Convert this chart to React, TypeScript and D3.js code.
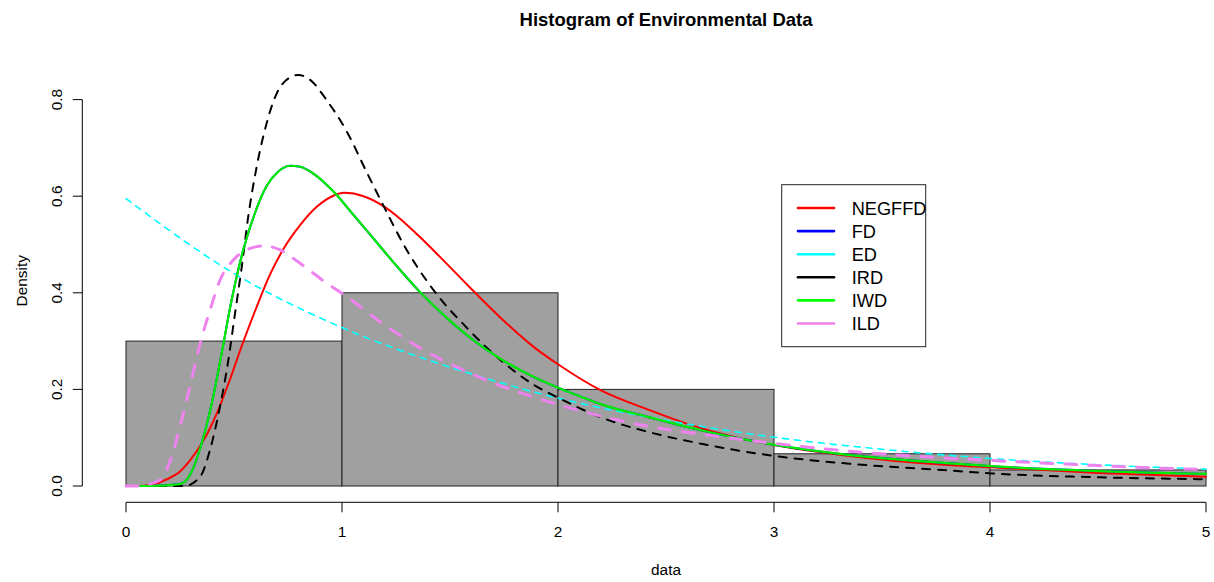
import React from "react";
import * as d3 from "d3";

// ---- Data ----
const binEdges = [0, 1, 2, 3, 4, 5];
const binDensity = [0.3, 0.4, 0.2, 0.0667, 0.0333];

const xTicks = [0, 1, 2, 3, 4, 5];
const yTicks = [0, 0.2, 0.4, 0.6, 0.8];

const negffdPts: [number, number][] = [
  [0, 0], [0.06, 0], [0.11, 0.002], [0.19, 0.014], [0.25, 0.03], [0.3, 0.055], [0.36, 0.095],
  [0.42, 0.15], [0.48, 0.219], [0.54, 0.295], [0.605, 0.371], [0.667, 0.438], [0.728, 0.49],
  [0.806, 0.54], [0.883, 0.578], [0.96, 0.601], [1.01, 0.607], [1.1, 0.6], [1.19, 0.58],
  [1.27, 0.553], [1.35, 0.52], [1.45, 0.476], [1.59, 0.412], [1.73, 0.35], [1.89, 0.287],
  [2.0, 0.252], [2.19, 0.2], [2.43, 0.156], [2.61, 0.127], [2.81, 0.102], [3.0, 0.085],
  [3.2, 0.071], [3.43, 0.058], [3.66, 0.048], [3.82, 0.043], [4.0, 0.039], [4.5, 0.027], [5.0, 0.019],
];

const iwdPts: [number, number][] = [
  [0, 0], [0.1, 0], [0.25, 0.004], [0.3, 0.026], [0.35, 0.088], [0.397, 0.171], [0.443, 0.275],
  [0.489, 0.385], [0.543, 0.489], [0.605, 0.575], [0.651, 0.621], [0.705, 0.651], [0.759, 0.663],
  [0.806, 0.661], [0.86, 0.649], [0.96, 0.61], [1.05, 0.563], [1.15, 0.51], [1.25, 0.457],
  [1.36, 0.402], [1.485, 0.348], [1.608, 0.302], [1.731, 0.264], [1.886, 0.226], [2.009, 0.202],
  [2.117, 0.183], [2.194, 0.17], [2.426, 0.142], [2.657, 0.116], [3.005, 0.085], [3.352, 0.064],
  [3.815, 0.047], [4.008, 0.041], [5.0, 0.025],
];

// FD coincides with IWD in the reference (hidden under the green curve)
const fdPts: [number, number][] = iwdPts;

const edPts: [number, number][] = [
  [0, 0.595], [0.5, 0.44], [1.0, 0.328], [1.5, 0.246], [2.0, 0.182], [2.5, 0.136],
  [3.0, 0.101], [3.5, 0.076], [4.0, 0.057], [4.5, 0.044], [5.0, 0.035],
];

const irdPts: [number, number][] = [
  [0, 0], [0.27, 0], [0.343, 0.019], [0.389, 0.075], [0.435, 0.164], [0.474, 0.261], [0.505, 0.358],
  [0.536, 0.454], [0.566, 0.558], [0.605, 0.661], [0.651, 0.751], [0.698, 0.813], [0.744, 0.841],
  [0.798, 0.851], [0.852, 0.841], [0.929, 0.799], [1.022, 0.734], [1.114, 0.65], [1.207, 0.567],
  [1.269, 0.513], [1.423, 0.406], [1.577, 0.328], [1.731, 0.262], [1.886, 0.21], [2.009, 0.181],
  [2.194, 0.143], [2.426, 0.111], [2.657, 0.088], [3.005, 0.062], [3.352, 0.046], [3.815, 0.032],
  [4.008, 0.026], [4.509, 0.018], [5.0, 0.014],
];

const ildPts: [number, number][] = [
  [0, 0], [0.05, 0], [0.157, 0.012], [0.211, 0.061], [0.258, 0.137], [0.296, 0.206], [0.343, 0.295],
  [0.389, 0.364], [0.435, 0.426], [0.497, 0.468], [0.559, 0.489], [0.636, 0.497], [0.713, 0.489],
  [0.806, 0.461], [0.929, 0.42], [1.006, 0.397], [1.207, 0.33], [1.392, 0.278], [1.577, 0.237],
  [1.731, 0.208], [1.917, 0.18], [2.117, 0.154], [2.426, 0.123], [2.735, 0.103], [3.005, 0.088],
  [3.352, 0.072], [3.645, 0.062], [4.0, 0.053], [4.324, 0.046], [4.664, 0.039], [5.0, 0.034],
];

const legendLabels = ["NEGFFD", "FD", "ED", "IRD", "IWD", "ILD"];
const legendColors = ["#ff0000", "#0000ff", "#00ffff", "#000000", "#00ff00", "#ee82ee"];

const FONT = "'Liberation Sans', Arial, Helvetica, sans-serif";

export default function App() {
  const W = 1214;
  const H = 582;
  const x = d3.scaleLinear().domain([0, 5]).range([126, 1206]);
  const y = d3.scaleLinear().domain([0, 0.8]).range([486, 99.6]);
  const axisY = 502.3;
  const axisX = 82.3;

  const line = d3
    .line<[number, number]>()
    .x((d) => x(d[0]))
    .y((d) => y(d[1]))
    .curve(d3.curveMonotoneX);

  const series = [
    { pts: negffdPts, color: "#ff0000", width: 2, dash: undefined },
    { pts: fdPts, color: "#0000ff", width: 2, dash: undefined },
    { pts: edPts, color: "#00ffff", width: 1.6, dash: "6,6" },
    { pts: irdPts, color: "#000000", width: 2, dash: "8,8" },
    { pts: iwdPts, color: "#00ee00", width: 2.2, dash: undefined },
    { pts: ildPts, color: "#ee82ee", width: 3, dash: "12,12" },
  ];

  return (
    <svg
      width={W}
      height={H}
      style={{ position: "absolute", left: 0, top: 0, background: "#fff" }}
      fontFamily={FONT}
    >
      {/* title */}
      <text x={x(2.5)} y={26} textAnchor="middle" fontWeight="bold" fontSize={18.5}>
        Histogram of Environmental Data
      </text>

      {/* bars */}
      {binDensity.map((v, i) => (
        <rect
          key={i}
          x={x(binEdges[i])}
          y={y(v)}
          width={x(binEdges[i + 1]) - x(binEdges[i])}
          height={y(0) - y(v)}
          fill="#a0a0a0"
          stroke="#222"
          strokeWidth={1}
        />
      ))}

      {/* curves */}
      {series.map((s, i) => (
        <path
          key={i}
          d={line(s.pts) || ""}
          fill="none"
          stroke={s.color}
          strokeWidth={s.width}
          strokeDasharray={s.dash}
          strokeLinecap="round"
          strokeLinejoin="round"
        />
      ))}

      {/* x axis */}
      <line x1={x(0)} x2={x(5)} y1={axisY} y2={axisY} stroke="#000" strokeWidth={1} />
      {xTicks.map((t) => (
        <g key={t}>
          <line x1={x(t)} x2={x(t)} y1={axisY} y2={axisY + 10} stroke="#000" strokeWidth={1} />
          <text x={x(t)} y={537.3} textAnchor="middle" fontSize={15.4}>
            {t}
          </text>
        </g>
      ))}
      <text x={x(2.5)} y={575} textAnchor="middle" fontSize={15.4}>
        data
      </text>

      {/* y axis */}
      <line x1={axisX} x2={axisX} y1={y(0)} y2={y(0.8)} stroke="#000" strokeWidth={1} />
      {yTicks.map((t) => (
        <g key={t}>
          <line x1={axisX} x2={axisX - 9.5} y1={y(t)} y2={y(t)} stroke="#000" strokeWidth={1} />
          <text
            transform={`translate(62,${y(t)}) rotate(-90)`}
            textAnchor="middle"
            fontSize={15.4}
          >
            {t.toFixed(1)}
          </text>
        </g>
      ))}
      <text transform={`translate(26.5,${(y(0) + y(0.8)) / 2 - 12}) rotate(-90)`} textAnchor="middle" fontSize={15.4}>
        Density
      </text>

      {/* legend */}
      <rect x={781.7} y={184.7} width={144} height={162} fill="#fff" stroke="#222" strokeWidth={1} />
      {legendLabels.map((lab, i) => {
        const ly = 208 + i * 23.1;
        return (
          <g key={lab}>
            <line x1={798} x2={834} y1={ly} y2={ly} stroke={legendColors[i]} strokeWidth={2.6} strokeLinecap="round" />
            <text x={851.7} y={ly + 6.6} fontSize={18.2}>
              {lab}
            </text>
          </g>
        );
      })}
    </svg>
  );
}
